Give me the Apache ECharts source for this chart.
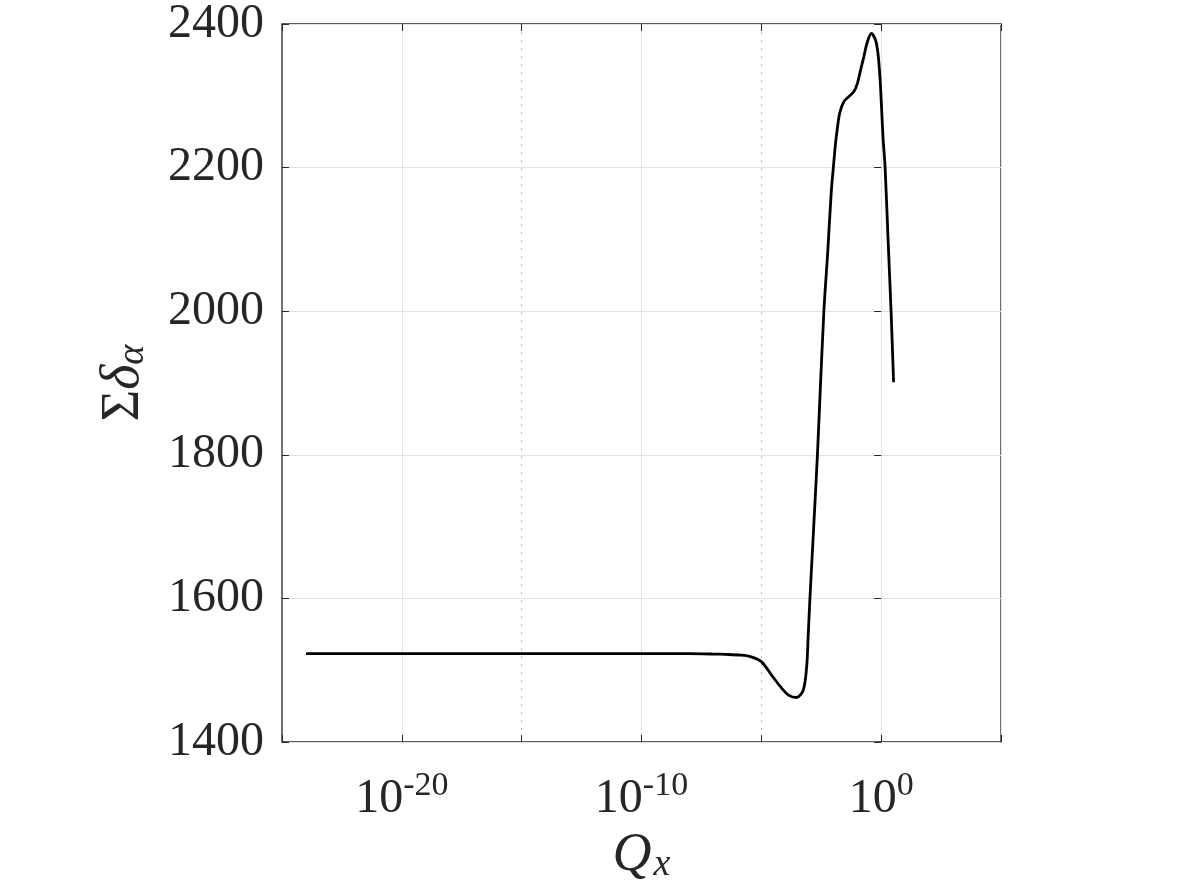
<!DOCTYPE html>
<html>
<head>
<meta charset="utf-8">
<script src="https://cdn.jsdelivr.net/npm/echarts@6/dist/echarts.min.js"></script>
<style>
  html, body { margin: 0; padding: 0; background: #fff; }
  #chart { width: 1196px; height: 890px; }
</style>
</head>
<body>
<div id="chart"></div>
<script>
// Q_x positions
const qx = [
  1e-24, 1e-15, 1e-10, 1e-8, 1e-7, 3.2e-7, 1.35e-6, 3.5e-6, 1.0e-5, 2.45e-5,
  6.3e-5, 1.41e-4, 2.95e-4, 5.6e-4, 7.8e-4, 9.1e-4, 1.07e-3, 1.35e-3, 1.74e-3, 2.19e-3,
  2.69e-3, 4.07e-3, 5.9e-3, 8.3e-3, 1.01e-2, 1.26e-2, 1.53e-2, 1.86e-2, 2.8e-2, 4.53e-2,
  7.31e-2, 0.101, 0.139, 0.191, 0.265, 0.390, 0.589, 0.735, 0.891, 1.02,
  1.19, 1.46, 1.94, 2.59, 3.3
];
// Σδ_α at each Q_x
const sumDelta = [
  1523, 1523, 1523, 1523, 1522.5, 1522, 1521, 1519, 1512, 1495,
  1477, 1465, 1462, 1472, 1505, 1551, 1601, 1665, 1735, 1800,
  1868, 2000, 2083, 2167, 2200, 2235, 2258, 2276, 2292, 2299,
  2306, 2317, 2336, 2355, 2375, 2387, 2377, 2359, 2326, 2289,
  2243, 2200, 2100, 2000, 1901
];
const xTickExps = [-20, -10, 0];      // labelled decades
const yTicks = [1400, 1600, 1800, 2000, 2200, 2400];

const ink = '#262626';
const serif = '"Liberation Serif", "Times New Roman", serif';
const none = 'rgba(0,0,0,0)';

const chart = echarts.init(document.getElementById('chart'));

const tickOnly = (position, withMinorGrid) => ({
  type: 'value',
  position,
  min: -25,
  max: 5,
  interval: 5,
  axisLine: { show: false },
  axisLabel: { show: false },
  // dotted minor grid at 1e-15 and 1e-5 only
  splitLine: {
    show: withMinorGrid,
    lineStyle: { color: [none, none, '#b8b8b8', none, '#b8b8b8', none, none], width: 1, type: [2, 6] }
  },
  axisTick: { show: true, inside: true, length: 7, lineStyle: { color: ink, width: 1 } }
});

chart.setOption({
  animation: false,
  grid: {
    left: 282, top: 22, width: 719, height: 720,
    show: true, borderColor: ink, borderWidth: 1.3, backgroundColor: 'transparent'
  },
  xAxis: [
    {
      type: 'log',
      logBase: 10,
      min: 1e-25,
      max: 1e5,
      name: '{q|Q}{s|x}',
      nameLocation: 'middle',
      nameGap: 86,
      nameTextStyle: {
        rich: {
          q: { fontFamily: serif, fontStyle: 'italic', fontSize: 54, color: ink },
          s: { fontFamily: serif, fontStyle: 'italic', fontSize: 38, color: ink, padding: [18, 0, 0, 2] }
        }
      },
      axisLine: { show: false },
      axisTick: { show: false },
      splitLine: { show: true, lineStyle: { color: '#e2e2e2', width: 1 } },
      axisLabel: {
        margin: 27,
        showMinLabel: false,
        showMaxLabel: false,
        formatter: (v) => {
          const e = Math.round(Math.log10(v));
          return xTickExps.includes(e) ? '{b|10}{s|' + e + '}' : '';
        },
        rich: {
          b: { fontFamily: serif, fontSize: 48, color: ink },
          s: { fontFamily: serif, fontSize: 34, color: ink, padding: [0, 0, 26, 0] }
        }
      }
    },
    tickOnly('bottom', true),
    tickOnly('top', false)
  ],
  yAxis: [
    {
      type: 'value',
      min: yTicks[0],
      max: yTicks[yTicks.length - 1],
      interval: 200,
      name: '{g|Σ}{d|δ}{a|α}',
      nameLocation: 'middle',
      nameRotate: 90,
      nameGap: 130,
      nameTextStyle: {
        rich: {
          g: { fontFamily: serif, fontSize: 54, color: ink },
          d: { fontFamily: serif, fontStyle: 'italic', fontSize: 54, color: ink },
          a: { fontFamily: serif, fontStyle: 'italic', fontSize: 38, color: ink, padding: [18, 0, 0, 0] }
        }
      },
      axisLine: { show: false },
      axisTick: { show: true, inside: true, length: 7, lineStyle: { color: ink } },
      splitLine: { show: true, lineStyle: { color: '#e2e2e2', width: 1 } },
      axisLabel: { fontFamily: serif, fontSize: 48, color: ink, margin: 18, formatter: (v) => String(v) }
    },
    {
      type: 'value',
      position: 'right',
      min: yTicks[0],
      max: yTicks[yTicks.length - 1],
      interval: 200,
      axisLine: { show: false },
      axisLabel: { show: false },
      splitLine: { show: false },
      axisTick: { show: true, inside: true, length: 7, lineStyle: { color: ink } }
    }
  ],
  series: [
    {
      type: 'line',
      xAxisIndex: 0,
      yAxisIndex: 0,
      data: qx.map((q, i) => [q, sumDelta[i]]),
      showSymbol: false,
      smooth: 0.3,
      lineStyle: { color: '#000', width: 2.8 },
      z: 3
    }
  ]
});
</script>
</body>
</html>
